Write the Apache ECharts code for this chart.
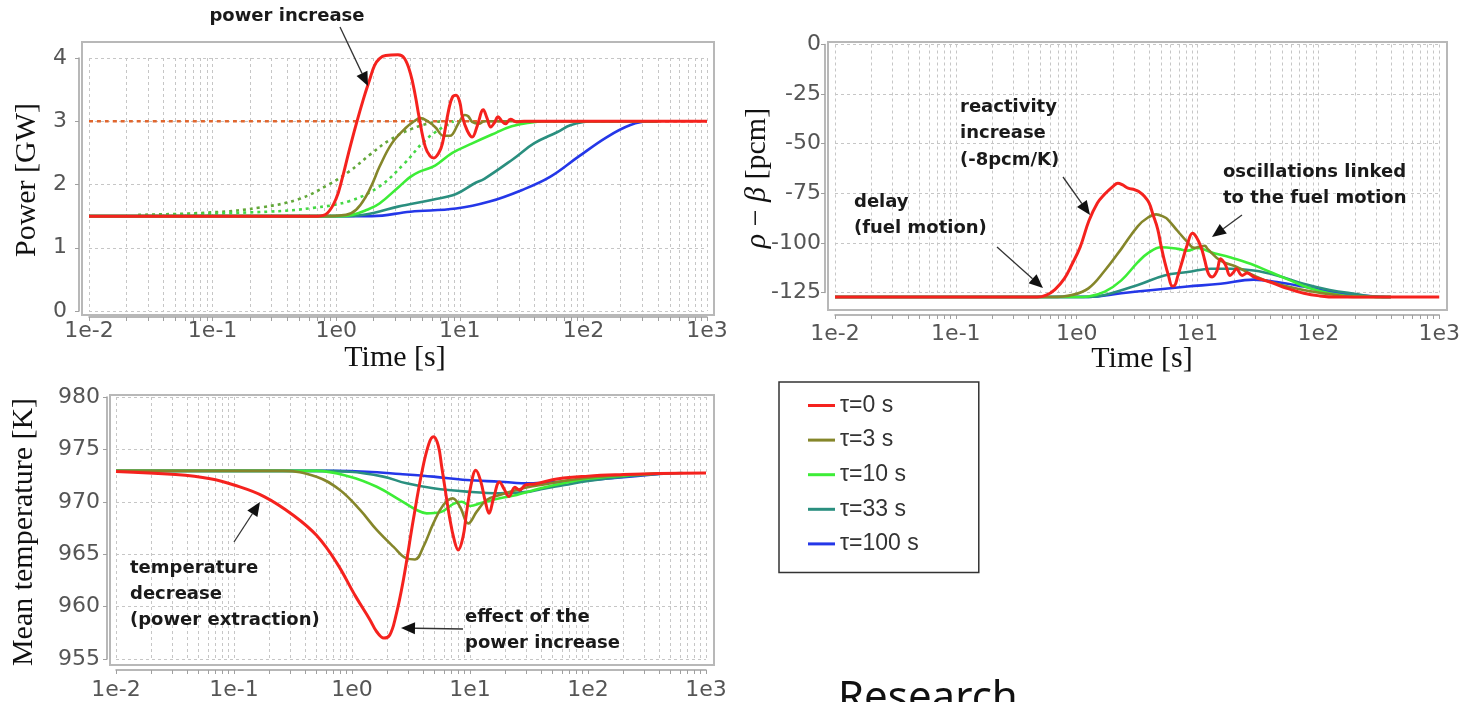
<!DOCTYPE html>
<html>
<head>
<meta charset="utf-8">
<script src="https://cdn.jsdelivr.net/npm/echarts@6/dist/echarts.min.js"></script>
<style>
html,body{margin:0;padding:0;background:#fff;}
#c{width:1463px;height:702px;}
</style>
</head>
<body>
<div id="c"></div>
<script>
// ---------------- DATA (time in s, value) ----------------
const seriesNames = ['τ=0 s', 'τ=3 s', 'τ=10 s', 'τ=33 s', 'τ=100 s'];
const xTickLabels = ['1e-2', '1e-1', '1e0', '1e1', '1e2', '1e3'];
const powerTicks = [0, 1, 2, 3, 4];
const rhoTicks = [-125, -100, -75, -50, -25, 0];
const tempTicks = [955, 960, 965, 970, 975, 980];

// Power [GW]
const powerTau0 = [[0.01,1.5],[0.71,1.5],[0.85,1.55],[1.0,1.78],[1.12,2.1],[1.26,2.5],[1.45,2.95],[1.66,3.35],[1.86,3.65],[2.04,3.88],[2.24,3.99],[2.51,4.04],[3.16,4.05],[3.55,4.0],[3.98,3.76],[4.37,3.4],[4.68,3.07],[5.25,2.6],[5.75,2.45],[6.17,2.42],[6.76,2.5],[7.24,2.65],[8.13,3.18],[8.71,3.38],[9.33,3.41],[10,3.3],[10.5,3.07],[11.5,2.85],[12.6,2.75],[13.8,2.92],[15.5,3.18],[16.6,3.05],[17.8,2.91],[19.1,2.98],[20.4,3.07],[21.9,3.0],[23.4,2.96],[25.7,3.03],[28.8,2.99],[33.1,3.0],[1000,3.0]];
const powerTau3 = [[0.01,1.5],[0.79,1.5],[1.2,1.52],[1.45,1.6],[1.74,1.81],[2.0,2.05],[2.24,2.28],[2.82,2.65],[3.63,2.89],[4.27,3.0],[4.79,3.05],[5.5,3.0],[6.31,2.91],[7.41,2.77],[8.32,2.77],[9.77,2.97],[11.0,3.1],[11.7,3.08],[12.6,2.99],[14.3,2.96],[15.8,3.0],[398,3.0]];
const powerTau10 = [[0.01,1.5],[1.0,1.5],[1.35,1.52],[1.78,1.6],[2.24,1.7],[3.24,1.97],[3.98,2.12],[4.68,2.2],[6.31,2.3],[8.71,2.5],[12.6,2.65],[18.2,2.79],[26.3,2.92],[38.0,2.98],[50.1,3.0],[398,3.0]];
const powerTau33 = [[0.01,1.5],[1.26,1.5],[2.0,1.55],[3.16,1.65],[6.03,1.76],[9.33,1.85],[13.2,2.02],[15.8,2.09],[26.9,2.4],[39.8,2.65],[61.7,2.83],[79.4,2.94],[117,3.0],[398,3.0]];
const powerTau100 = [[0.01,1.5],[1.95,1.5],[3.98,1.57],[9.33,1.62],[17.4,1.73],[31.6,1.91],[53.7,2.12],[91.2,2.44],[155,2.75],[240,2.94],[339,3.0],[398,3.0]];
const powerDotDark = [[0.025,1.52],[0.1,1.56],[0.25,1.64],[0.5,1.77],[0.87,2.0],[1.26,2.2],[1.9,2.48],[2.69,2.7],[4.07,2.88],[6.03,2.98],[7.08,3.0]];
const powerDotLight = [[0.025,1.51],[0.28,1.57],[0.65,1.63],[1.29,1.74],[2.24,1.97],[3.55,2.33],[5.25,2.7],[7.08,2.89],[8.91,3.0]];
const powerTarget = [[0.01,3.0],[1000,3.0]];

// rho - beta [pcm]
const rhoTau0 = [[0.01,-127.3],[0.47,-127.3],[0.56,-126.3],[0.66,-123.5],[0.79,-118],[0.91,-111],[1.07,-102],[1.26,-89],[1.48,-80],[1.7,-75.5],[2.0,-71.5],[2.19,-69.9],[2.4,-70.8],[2.66,-72.4],[3.02,-73.2],[3.24,-74.0],[3.63,-76.5],[3.98,-80],[4.27,-85.6],[4.68,-93],[5.01,-102],[5.37,-110],[5.75,-116.5],[6.17,-121.7],[6.46,-121.5],[6.84,-117],[7.41,-110],[8.26,-100.5],[9.08,-95.1],[9.77,-97],[10.7,-102.2],[11.5,-109],[12.3,-115.5],[13.2,-117.2],[14.5,-114],[15.5,-108],[17.0,-111],[18.6,-116.4],[20.0,-114.5],[20.9,-113.0],[23.4,-116.4],[25.7,-115.2],[29.5,-117.2],[39.8,-119.7],[55.0,-122.9],[75.9,-125.4],[102,-126.7],[141,-127.3],[1000,-127.3]];
const rhoTau3 = [[0.01,-127.3],[0.63,-127.3],[0.91,-126.3],[1.25,-122.9],[1.71,-113.9],[2.34,-103.0],[3.21,-91.5],[3.89,-87.2],[4.54,-85.6],[5.32,-87],[5.66,-88.1],[6.84,-94.0],[8.26,-99.6],[9.38,-102.5],[10.6,-101.8],[11.5,-101.5],[12.1,-103.0],[15.5,-108.9],[21.3,-112.2],[29.2,-116.4],[40.0,-119.7],[75.2,-123.7],[141,-126.3],[194,-127.2],[398,-127.3]];
const rhoTau10 = [[0.01,-127.3],[1.0,-127.3],[1.25,-127.0],[1.71,-124.6],[2.34,-118.9],[3.21,-109.7],[3.89,-105.2],[4.99,-102.2],[6.84,-103.0],[8.26,-103.9],[10,-102.5],[12.9,-104.7],[18.5,-107.2],[27.4,-110.5],[40,-114.7],[58.5,-118.9],[85.3,-122.9],[124,-125.4],[182,-126.8],[398,-127.3]];
const rhoTau33 = [[0.01,-127.3],[1.26,-127.3],[1.71,-126.3],[3.21,-121.2],[5.32,-116.4],[8.26,-114.7],[12.9,-113.0],[18.7,-113.0],[29.2,-113.9],[45.4,-116.4],[75.2,-120.6],[124,-123.7],[206,-125.8],[301,-127.2],[398,-127.3]];
const rhoTau100 = [[0.01,-127.3],[1.25,-127.2],[2.34,-125.4],[4.27,-123.7],[8.26,-122.0],[15.5,-120.6],[29.2,-118.5],[45.4,-119.7],[75.2,-122.0],[124,-124.6],[206,-126.3],[342,-127.2],[398,-127.3]];

// Mean temperature [K]
const tempTau0 = [[0.01,972.9],[0.032,972.6],[0.063,972.2],[0.1,971.6],[0.18,970.5],[0.32,968.7],[0.5,966.8],[0.74,964.2],[1.07,961.0],[1.41,958.8],[1.62,957.6],[1.86,957.0],[2.09,957.3],[2.34,959.0],[2.72,962.5],[3.31,968.3],[3.89,972.7],[4.47,975.5],[4.9,976.2],[5.37,975.4],[5.75,973.4],[6.76,968.3],[7.41,966.2],[7.94,965.4],[8.71,966.6],[9.33,968.9],[10.2,971.6],[11.2,973.0],[12.3,972.0],[13.5,970.0],[14.5,968.9],[15.8,970.3],[17.8,971.9],[19.5,971.2],[21.4,970.5],[24.0,971.4],[26.3,971.1],[29.5,971.6],[35.5,971.7],[56.2,972.2],[100,972.45],[200,972.6],[398,972.7],[1000,972.75]];
const tempTau3 = [[0.01,972.95],[0.26,972.95],[0.5,972.4],[0.79,971.13],[1.17,969.22],[1.62,967.31],[2.24,965.72],[2.9,964.6],[3.42,964.5],[4.03,965.72],[4.89,967.94],[5.94,969.69],[7.13,970.33],[8.22,969.53],[9.68,967.94],[11.4,969.06],[13.8,970.17],[17.9,970.65],[24.9,971.13],[32.2,971.44],[39.8,971.6],[63.1,972.0],[100,972.3],[200,972.55],[398,972.7]];
const tempTau10 = [[0.01,972.95],[0.5,972.95],[0.96,972.4],[1.62,971.44],[2.55,970.17],[3.53,969.22],[4.3,968.9],[5.57,969.0],[7.23,969.8],[8.51,970.0],[10,969.6],[12.6,969.9],[17.9,970.33],[24.9,970.65],[32.2,971.0],[39.8,971.3],[63.1,971.8],[100,972.2],[200,972.5],[398,972.7]];
const tempTau33 = [[0.01,972.95],[0.5,972.95],[0.96,972.87],[1.84,972.4],[2.9,971.76],[4.89,971.29],[9.38,970.97],[17.9,970.81],[32.2,970.97],[39.8,971.2],[63.1,971.6],[100,972.0],[200,972.4],[398,972.65],[631,972.75]];
const tempTau100 = [[0.01,972.95],[0.7,972.95],[1.33,972.87],[2.55,972.65],[4.89,972.4],[9.38,972.08],[17.9,971.92],[32.2,971.76],[39.8,971.8],[63.1,971.9],[100,972.05],[158,972.25],[251,972.45],[398,972.65]];

// ---------------- STYLE ----------------
const colors = ['#f5221e', '#85862a', '#3ded37', '#2a8f7f', '#2437e8'];
const powerSets = [powerTau0, powerTau3, powerTau10, powerTau33, powerTau100];
const rhoSets = [rhoTau0, rhoTau3, rhoTau10, rhoTau33, rhoTau100];
const tempSets = [tempTau0, tempTau3, tempTau10, tempTau33, tempTau100];

// log grid positions (1..9 per decade)
const xGridValues = [];
for (let d = -2; d <= 2; d++) {
  for (let k = 1; k <= 9; k++) xGridValues.push(+(k * Math.pow(10, d)).toPrecision(3));
}
xGridValues.push(1000);

const tickFont = 'DejaVu Sans';
const gridLine = {show: true, lineStyle: {color: '#c6c6c6', type: [3, 3], width: 1}};

function makeX(gi, offset, margin) {
  return {
    type: 'log', logBase: 10, gridIndex: gi, min: 0.01, max: 1000, offset: offset,
    axisLine: {show: true, onZero: false, lineStyle: {color: '#a0a0a0', width: 1.5}},
    axisTick: {show: true, length: 4, customValues: xGridValues, lineStyle: {color: '#a0a0a0'}},
    axisLabel: {margin: margin, color: '#555', fontFamily: tickFont, fontSize: 22,
      formatter: v => xTickLabels[Math.round(Math.log10(v)) + 2]},
    splitLine: gridLine
  };
}
function makeY(gi, ticks, offset, margin) {
  return {
    type: 'value', gridIndex: gi, min: ticks[0], max: ticks[ticks.length - 1],
    interval: ticks[1] - ticks[0], offset: offset,
    axisLine: {show: true, onZero: false, lineStyle: {color: '#a0a0a0', width: 1.5}},
    axisTick: {show: true, length: 4, lineStyle: {color: '#a0a0a0'}},
    axisLabel: {margin: margin, color: '#555', fontFamily: tickFont, fontSize: 22},
    splitLine: gridLine
  };
}

const series = [];
function addLine(name, data, gi, color, width, dash, z) {
  series.push({
    type: 'line', name: name, data: data, xAxisIndex: gi, yAxisIndex: gi,
    symbol: 'none', clip: false, smooth: 0.4, silent: true,
    lineStyle: {color: color, width: width, type: dash || 'solid'},
    itemStyle: {color: color}, z: z
  });
}
// grid 0: power
addLine('target', powerTarget, 0, '#e0662e', 2.6, [4, 4], 2);
addLine('dotDark', powerDotDark, 0, '#63a83a', 2.6, [3, 4], 2);
addLine('dotLight', powerDotLight, 0, '#45d845', 2.6, [3, 4], 2);
for (let i = 4; i >= 0; i--) {
  addLine(seriesNames[i], powerSets[i], 0, colors[i], i === 0 ? 3 : 2.6, null, 3);
  addLine(seriesNames[i], rhoSets[i], 1, colors[i], i === 0 ? 3 : 2.6, null, 3);
  addLine(seriesNames[i], tempSets[i], 2, colors[i], i === 0 ? 3 : 2.6, null, 3);
}

// ---------------- GRAPHICS (frames, titles, annotations) ----------------
const graphics = [];
function frame(x, y, w, h) {
  graphics.push({type: 'rect', shape: {x: x, y: y, width: w, height: h}, silent: true, z: 1,
    style: {fill: 'none', stroke: '#b8b8b8', lineWidth: 2}});
}
frame(82, 42, 632, 273);
frame(828, 42, 619, 268);
frame(110, 395, 604, 270);

function txt(s, x, y, opt) {
  graphics.push(Object.assign({type: 'text', x: x, y: y, silent: true, z: 100,
    style: Object.assign({text: s, fill: '#1a1a1a', fontFamily: 'DejaVu Sans', fontWeight: 'bold',
      fontSize: 18, align: 'left', verticalAlign: 'middle'}, opt && opt.style || {})},
    opt && opt.el || {}));
}
function arrow(x1, y1, x2, y2) {
  const a = Math.atan2(y2 - y1, x2 - x1), L = 14, W = 6;
  const bx = x2 - L * Math.cos(a), by = y2 - L * Math.sin(a);
  const px = -Math.sin(a) * W, py = Math.cos(a) * W;
  graphics.push({type: 'line', silent: true, z: 100, shape: {x1: x1, y1: y1, x2: bx, y2: by},
    style: {stroke: '#333', lineWidth: 1.3}});
  graphics.push({type: 'polygon', silent: true, z: 100,
    shape: {points: [[x2, y2], [bx + px, by + py], [bx - px, by - py]]}, style: {fill: '#111'}});
}

// axis titles
const serif = 'Liberation Serif';
const tStyle = {fontFamily: serif, fontWeight: 'normal', fontSize: 30, align: 'center', fill: '#111'};
txt('Power [GW]', 27, 180, {style: tStyle, el: {rotation: Math.PI / 2}});
txt('Time [s]', 395, 358, {style: tStyle});
txt('{i|ρ} − {i|β} [pcm]', 757, 178, {style: Object.assign({}, tStyle,
  {rich: {i: {fontStyle: 'italic', fontFamily: serif, fontSize: 30, fill: '#111'}}}), el: {rotation: Math.PI / 2}});
txt('Time [s]', 1142, 359, {style: tStyle});
txt('Mean temperature [K]', 24, 532, {style: tStyle, el: {rotation: Math.PI / 2}});

// annotations
txt('power increase', 287, 16, {style: {align: 'center'}});
arrow(340, 27, 368, 86);
txt('reactivity', 960, 107);
txt('increase', 960, 133);
txt('(-8pcm/K)', 960, 160);
arrow(1063, 177, 1090, 215);
txt('delay', 854, 202);
txt('(fuel motion)', 854, 228);
arrow(997, 247, 1043, 288);
txt('oscillations linked', 1223, 172);
txt('to the fuel motion', 1223, 198);
arrow(1242, 215, 1212, 237);
txt('temperature', 130, 568);
txt('decrease', 130, 594);
txt('(power extraction)', 130, 620);
arrow(234, 542, 260, 502);
txt('effect of the', 465, 617);
txt('power increase', 465, 643);
arrow(463, 629, 401, 628);

// stray caption text at bottom
txt('Research', 838, 699, {style: {fontFamily: 'Noto Sans', fontWeight: 'normal', fontSize: 42, fill: '#111'}});

// ---------------- CHART ----------------
const chart = echarts.init(document.getElementById('c'), null, {renderer: 'canvas', width: 1463, height: 702});
chart.setOption({
  animation: false,
  backgroundColor: '#ffffff',
  grid: [
    {left: 89, top: 58, width: 618, height: 253},
    {left: 835, top: 44.5, width: 608, height: 248},
    {left: 116, top: 397, width: 590, height: 262}
  ],
  xAxis: [makeX(0, 6, 3), makeX(1, 22.5, 8), makeX(2, 11, 9)],
  yAxis: [makeY(0, powerTicks, 10, 12), makeY(1, rhoTicks, 10, 4), makeY(2, tempTicks, 9, 7)],
  legend: {
    data: seriesNames, orient: 'vertical', left: 779, top: 382,
    padding: [12, 60, 17, 29], itemGap: 11.6, itemWidth: 27, itemHeight: 3, icon: 'rect',
    borderColor: '#333', borderWidth: 1.5, backgroundColor: '#fff',
    selectedMode: false,
    textStyle: {fontFamily: 'Liberation Sans', fontSize: 23, color: '#333'}
  },
  series: series,
  graphic: {elements: graphics}
});
</script>
</body>
</html>
